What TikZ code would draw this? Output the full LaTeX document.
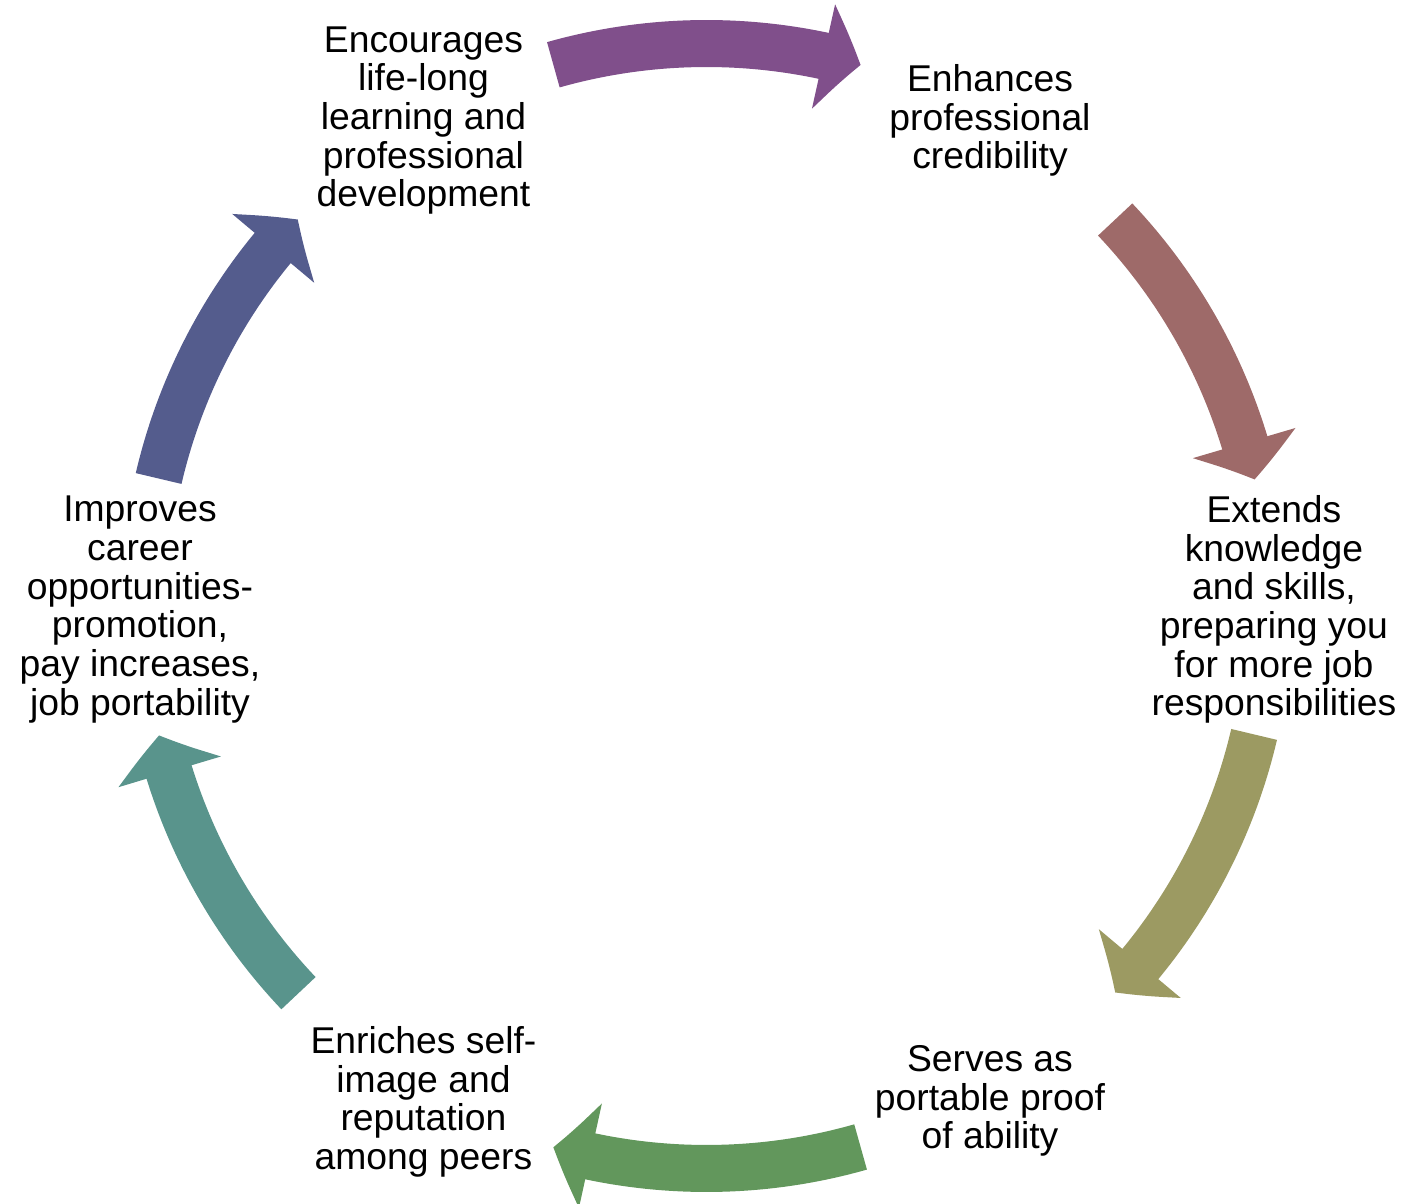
\documentclass[tikz,border=0pt]{standalone}
\usepackage{fontspec}
\setmainfont{Liberation Sans}
\usetikzlibrary{arrows.meta,bending}

\definecolor{cycPurple}{RGB}{128,79,139}
\definecolor{cycMauve}{RGB}{158,106,105}
\definecolor{cycOlive}{RGB}{156,154,98}
\definecolor{cycGreen}{RGB}{98,151,92}
\definecolor{cycTeal}{RGB}{89,148,140}
\definecolor{cycBlue}{RGB}{84,92,141}

\tikzset{
  benefit/.style={align=center, inner sep=0pt, font=\fontsize{37.3}{38.7}\selectfont},
  cyc/.style={line width=47pt, -{Triangle[length=38pt,width=105pt,bend]}},
}

\begin{document}
\begin{tikzpicture}[x=1pt,y=1pt]
\useasboundingbox (-706.5,-598) rectangle (702.5,606);

\node[benefit] (learn) at (-283,485.5) {Encourages\\life-long\\learning and\\professional\\development};
\node[benefit] (cred) at (283.5,485.5) {Enhances\\professional\\credibility};
\node[benefit] (skills) at (567.5,-3.5) {Extends\\knowledge\\and skills,\\preparing you\\for more job\\responsibilities};
\node[benefit] (proof) at (283.5,-495) {Serves as\\portable proof\\of ability};
\node[benefit] (image) at (-283,-496) {Enriches self-\\image and\\reputation\\among peers};
\node[benefit] (career) at (-566.5,-3.5) {Improves\\career\\opportunities-\\promotion,\\pay increases,\\job portability};

\coordinate (a1) at (105.8:562.5);
\coordinate (a2) at (43.4:562.5);
\coordinate (a3) at (-13.2:562.5);
\coordinate (a4) at (-74.1:562.5);
\coordinate (a5) at (-136.5:562.5);
\coordinate (a6) at (166.9:562.5);

\draw[cyc, draw=cycPurple] (a1) arc[start angle=105.8, end angle=74.1, radius=562.5];
\draw[cyc, draw=cycMauve] (a2) arc[start angle=43.4, end angle=13.0, radius=562.5];
\draw[cyc, draw=cycOlive] (a3) arc[start angle=-13.2, end angle=-43.4, radius=562.5];
\draw[cyc, draw=cycGreen] (a4) arc[start angle=-74.1, end angle=-105.8, radius=562.5];
\draw[cyc, draw=cycTeal] (a5) arc[start angle=-136.5, end angle=-166.7, radius=562.5];
\draw[cyc, draw=cycBlue] (a6) arc[start angle=166.9, end angle=136.6, radius=562.5];
\end{tikzpicture}
\end{document}
